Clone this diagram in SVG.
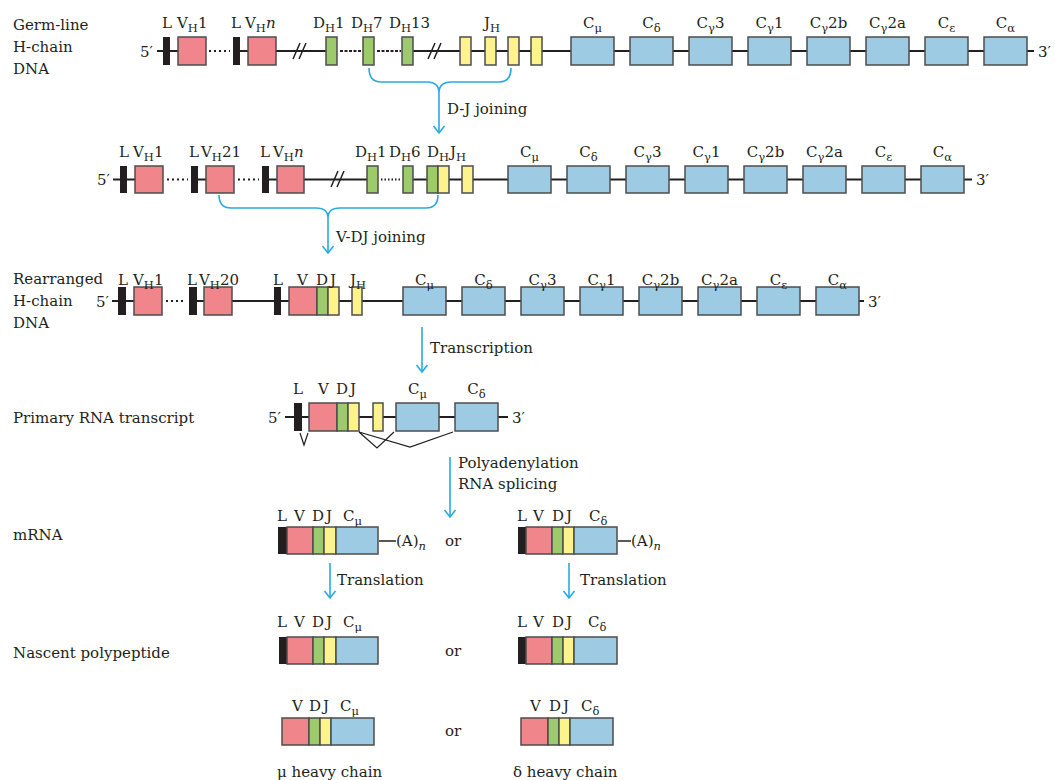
<svg xmlns="http://www.w3.org/2000/svg" width="1055" height="780" viewBox="0 0 1055 780">
<defs>
<style>
.t{font-family:"DejaVu Serif","Liberation Serif",serif;font-size:15px;fill:#231f20}
.s{font-size:11.5px}
.i{font-style:italic}
.ln{stroke:#231f20;stroke-width:2;fill:none}
.dot{stroke:#231f20;stroke-width:2;fill:none;stroke-dasharray:2 3}
.dsh{stroke:#231f20;stroke-width:2;fill:none;stroke-dasharray:3 1.5}
.sl{stroke:#231f20;stroke-width:1.5;fill:none}
.L{fill:#231f20}
.V{fill:#f0858b;stroke:#4d4d4d;stroke-width:1.5}
.D{fill:#9dcb6b;stroke:#4d4d4d;stroke-width:1.5}
.J{fill:#fcf38c;stroke:#4d4d4d;stroke-width:1.5}
.C{fill:#9ccbe3;stroke:#4d4d4d;stroke-width:1.5}
.arr{stroke:#29aae1;stroke-width:1.6;fill:none}
.spl{stroke:#231f20;stroke-width:1.2;fill:none}
</style>
<marker id="ah" viewBox="-9 -7 11 14" refX="0" refY="0" markerWidth="11" markerHeight="14" markerUnits="userSpaceOnUse" orient="auto">
<path d="M-7,-5.5 L0,0 L-7,5.5" fill="none" stroke="#29aae1" stroke-width="1.6"/>
</marker>
</defs>
<rect width="1055" height="780" fill="#ffffff"/>

<!-- Left labels -->
<g id="side-labels">
<text class="t" x="13" y="30">Germ-line</text>
<text class="t" x="13" y="52">H-chain</text>
<text class="t" x="13" y="74">DNA</text>
<text class="t" x="13" y="284">Rearranged</text>
<text class="t" x="13" y="306">H-chain</text>
<text class="t" x="13" y="328">DNA</text>
<text class="t" x="13" y="423">Primary RNA transcript</text>
<text class="t" x="13" y="540">mRNA</text>
<text class="t" x="13" y="658">Nascent polypeptide</text>
</g>

<!-- Row 1: germ-line -->
<g id="row1">
<g id="row1-backbone">
<path class="ln" d="M157,51 H205 M240,51 H337 M413,51 H1034"/>
<path class="dot" d="M209,51 H230"/>
<path class="dsh" d="M340,51 H362 M377,51 H401"/>
<path class="sl" d="M293,59 L300,43 M299,59 L306,43 M428,59 L435,43 M434,59 L441,43"/>
<text class="t" x="140" y="57">5′</text>
<text class="t" x="1038" y="57">3′</text>
</g>
<g id="r1-L1"><rect class="L" x="163" y="37" width="7" height="28"/><text class="t" x="162" y="28">L</text></g>
<g id="r1-VH1"><rect class="V" x="178" y="37" width="28" height="28"/><text class="t" x="177" y="28">V<tspan class="s" dy="4">H</tspan><tspan dy="-4">1</tspan></text></g>
<g id="r1-L2"><rect class="L" x="233" y="37" width="7" height="28"/><text class="t" x="231" y="28">L</text></g>
<g id="r1-VHn"><rect class="V" x="248" y="37" width="28" height="28"/><text class="t" x="245" y="28">V<tspan class="s" dy="4">H</tspan><tspan class="i" dy="-4">n</tspan></text></g>
<g id="r1-DH1"><rect class="D" x="326" y="37" width="11" height="28"/><text class="t" x="313" y="28">D<tspan class="s" dy="4">H</tspan><tspan dy="-4">1</tspan></text></g>
<g id="r1-DH7"><rect class="D" x="363" y="37" width="11" height="28"/><text class="t" x="351" y="28">D<tspan class="s" dy="4">H</tspan><tspan dy="-4">7</tspan></text></g>
<g id="r1-DH13"><rect class="D" x="402" y="37" width="11" height="28"/><text class="t" x="389" y="28">D<tspan class="s" dy="4">H</tspan><tspan dy="-4">13</tspan></text></g>
<g id="r1-JH">
<rect class="J" x="460" y="37" width="11" height="28"/>
<rect class="J" x="485" y="37" width="11" height="28"/>
<rect class="J" x="508" y="37" width="11" height="28"/>
<rect class="J" x="531" y="37" width="11" height="28"/>
<text class="t" x="484" y="28">J<tspan class="s" dy="4">H</tspan></text>
</g>
<g id="r1-Cmu"><rect class="C" x="571" y="37" width="43" height="28"/><text class="t" x="592.5" y="28" text-anchor="middle">C<tspan class="s" dy="4">μ</tspan></text></g>
<g id="r1-Cdelta"><rect class="C" x="630" y="37" width="43" height="28"/><text class="t" x="651.5" y="28" text-anchor="middle">C<tspan class="s" dy="4">δ</tspan></text></g>
<g id="r1-Cg3"><rect class="C" x="689" y="37" width="43" height="28"/><text class="t" x="710.5" y="28" text-anchor="middle">C<tspan class="s" dy="4">γ</tspan><tspan dy="-4">3</tspan></text></g>
<g id="r1-Cg1"><rect class="C" x="748" y="37" width="43" height="28"/><text class="t" x="769.5" y="28" text-anchor="middle">C<tspan class="s" dy="4">γ</tspan><tspan dy="-4">1</tspan></text></g>
<g id="r1-Cg2b"><rect class="C" x="807" y="37" width="43" height="28"/><text class="t" x="828.5" y="28" text-anchor="middle">C<tspan class="s" dy="4">γ</tspan><tspan dy="-4">2b</tspan></text></g>
<g id="r1-Cg2a"><rect class="C" x="866" y="37" width="43" height="28"/><text class="t" x="887.5" y="28" text-anchor="middle">C<tspan class="s" dy="4">γ</tspan><tspan dy="-4">2a</tspan></text></g>
<g id="r1-Ceps"><rect class="C" x="925" y="37" width="43" height="28"/><text class="t" x="946.5" y="28" text-anchor="middle">C<tspan class="s" dy="4">ε</tspan></text></g>
<g id="r1-Calpha"><rect class="C" x="984" y="37" width="43" height="28"/><text class="t" x="1005.5" y="28" text-anchor="middle">C<tspan class="s" dy="4">α</tspan></text></g>
</g>

<!-- Row 2: after D-J joining -->
<g id="row2">
<g id="row2-backbone">
<path class="ln" d="M113,179.5 H163 M191,179.5 H234 M262,179.5 H378 M403,179.5 H972"/>
<path class="dot" d="M167,179.5 H188 M238,179.5 H259"/>
<path class="dot" d="M381,179.5 H402" style="stroke-dasharray:1.5 2"/>
<path class="sl" d="M331,187 L338,171 M337,187 L344,171"/>
<text class="t" x="97" y="185">5′</text>
<text class="t" x="976" y="185">3′</text>
</g>
<g id="r2-L1"><rect class="L" x="120" y="166" width="7" height="27"/><text class="t" x="119" y="157">L</text></g>
<g id="r2-VH1"><rect class="V" x="135" y="166" width="28" height="27"/><text class="t" x="133" y="157">V<tspan class="s" dy="4">H</tspan><tspan dy="-4">1</tspan></text></g>
<g id="r2-L2"><rect class="L" x="191" y="166" width="7" height="27"/><text class="t" x="189" y="157">L</text></g>
<g id="r2-VH21"><rect class="V" x="206" y="166" width="28" height="27"/><text class="t" x="201" y="157">V<tspan class="s" dy="4">H</tspan><tspan dy="-4">21</tspan></text></g>
<g id="r2-L3"><rect class="L" x="262" y="166" width="7" height="27"/><text class="t" x="260" y="157">L</text></g>
<g id="r2-VHn"><rect class="V" x="277" y="166" width="27" height="27"/><text class="t" x="273" y="157">V<tspan class="s" dy="4">H</tspan><tspan class="i" dy="-4">n</tspan></text></g>
<g id="r2-DH1"><rect class="D" x="367" y="166" width="11" height="27"/><text class="t" x="355" y="157">D<tspan class="s" dy="4">H</tspan><tspan dy="-4">1</tspan></text></g>
<g id="r2-DH6"><rect class="D" x="403" y="166" width="10" height="27"/><text class="t" x="389" y="157">D<tspan class="s" dy="4">H</tspan><tspan dy="-4">6</tspan></text></g>
<g id="r2-DHJH"><rect class="D" x="427" y="166" width="11" height="27"/><rect class="J" x="438" y="166" width="11" height="27"/><text class="t" x="427" y="157">D<tspan class="s" dy="4">H</tspan><tspan dy="-4" dx="1">J</tspan><tspan class="s" dy="4">H</tspan></text></g>
<g id="r2-JH"><rect class="J" x="462" y="166" width="11" height="27"/></g>
<g id="r2-Cmu"><rect class="C" x="508" y="166" width="43" height="27"/><text class="t" x="529.5" y="157" text-anchor="middle">C<tspan class="s" dy="4">μ</tspan></text></g>
<g id="r2-Cdelta"><rect class="C" x="567" y="166" width="43" height="27"/><text class="t" x="588.5" y="157" text-anchor="middle">C<tspan class="s" dy="4">δ</tspan></text></g>
<g id="r2-Cg3"><rect class="C" x="626" y="166" width="43" height="27"/><text class="t" x="647.5" y="157" text-anchor="middle">C<tspan class="s" dy="4">γ</tspan><tspan dy="-4">3</tspan></text></g>
<g id="r2-Cg1"><rect class="C" x="685" y="166" width="43" height="27"/><text class="t" x="706.5" y="157" text-anchor="middle">C<tspan class="s" dy="4">γ</tspan><tspan dy="-4">1</tspan></text></g>
<g id="r2-Cg2b"><rect class="C" x="744" y="166" width="43" height="27"/><text class="t" x="765.5" y="157" text-anchor="middle">C<tspan class="s" dy="4">γ</tspan><tspan dy="-4">2b</tspan></text></g>
<g id="r2-Cg2a"><rect class="C" x="803" y="166" width="43" height="27"/><text class="t" x="824.5" y="157" text-anchor="middle">C<tspan class="s" dy="4">γ</tspan><tspan dy="-4">2a</tspan></text></g>
<g id="r2-Ceps"><rect class="C" x="862" y="166" width="43" height="27"/><text class="t" x="883.5" y="157" text-anchor="middle">C<tspan class="s" dy="4">ε</tspan></text></g>
<g id="r2-Calpha"><rect class="C" x="921" y="166" width="43" height="27"/><text class="t" x="942.5" y="157" text-anchor="middle">C<tspan class="s" dy="4">α</tspan></text></g>
</g>

<!-- Row 3: rearranged -->
<g id="row3">
<g id="row3-backbone">
<path class="ln" d="M112,301 H162 M189,301 H864"/>
<path class="dot" d="M166,301 H186"/>
<text class="t" x="96" y="307">5′</text>
<text class="t" x="868" y="307">3′</text>
</g>
<g id="r3-L1"><rect class="L" x="118" y="287" width="8" height="28"/><text class="t" x="118" y="285">L</text></g>
<g id="r3-VH1"><rect class="V" x="134" y="287" width="28" height="28"/><text class="t" x="133" y="285">V<tspan class="s" dy="4">H</tspan><tspan dy="-4">1</tspan></text></g>
<g id="r3-L2"><rect class="L" x="189" y="287" width="8" height="28"/><text class="t" x="187" y="285">L</text></g>
<g id="r3-VH20"><rect class="V" x="204" y="287" width="28" height="28"/><text class="t" x="199" y="285">V<tspan class="s" dy="4">H</tspan><tspan dy="-4">20</tspan></text></g>
<g id="r3-L3"><rect class="L" x="274" y="287" width="7" height="28"/><text class="t" x="273" y="285">L</text></g>
<g id="r3-VDJ"><rect class="V" x="289" y="287" width="28" height="28"/><rect class="D" x="317" y="287" width="11" height="28"/><rect class="J" x="328" y="287" width="11" height="28"/>
<text class="t" x="297" y="285">V</text><text class="t" x="316" y="285">D<tspan dx="2">J</tspan></text></g>
<g id="r3-JH"><rect class="J" x="352" y="287" width="10" height="28"/><text class="t" x="350" y="285">J<tspan class="s" dy="4">H</tspan></text></g>
<g id="r3-Cmu"><rect class="C" x="403" y="287" width="43" height="28"/><text class="t" x="424.5" y="285" text-anchor="middle">C<tspan class="s" dy="4">μ</tspan></text></g>
<g id="r3-Cdelta"><rect class="C" x="462" y="287" width="43" height="28"/><text class="t" x="483.5" y="285" text-anchor="middle">C<tspan class="s" dy="4">δ</tspan></text></g>
<g id="r3-Cg3"><rect class="C" x="521" y="287" width="43" height="28"/><text class="t" x="542.5" y="285" text-anchor="middle">C<tspan class="s" dy="4">γ</tspan><tspan dy="-4">3</tspan></text></g>
<g id="r3-Cg1"><rect class="C" x="580" y="287" width="43" height="28"/><text class="t" x="601.5" y="285" text-anchor="middle">C<tspan class="s" dy="4">γ</tspan><tspan dy="-4">1</tspan></text></g>
<g id="r3-Cg2b"><rect class="C" x="639" y="287" width="43" height="28"/><text class="t" x="660.5" y="285" text-anchor="middle">C<tspan class="s" dy="4">γ</tspan><tspan dy="-4">2b</tspan></text></g>
<g id="r3-Cg2a"><rect class="C" x="698" y="287" width="43" height="28"/><text class="t" x="719.5" y="285" text-anchor="middle">C<tspan class="s" dy="4">γ</tspan><tspan dy="-4">2a</tspan></text></g>
<g id="r3-Ceps"><rect class="C" x="757" y="287" width="43" height="28"/><text class="t" x="778.5" y="285" text-anchor="middle">C<tspan class="s" dy="4">ε</tspan></text></g>
<g id="r3-Calpha"><rect class="C" x="816" y="287" width="43" height="28"/><text class="t" x="837.5" y="285" text-anchor="middle">C<tspan class="s" dy="4">α</tspan></text></g>
</g>

<!-- Primary RNA transcript -->
<g id="primary-transcript">
<path class="ln" d="M285,417 H508"/>
<text class="t" x="268" y="423">5′</text>
<text class="t" x="512" y="423">3′</text>
<rect class="L" x="294" y="403" width="8" height="28"/>
<rect class="V" x="309" y="403" width="28" height="28"/>
<rect class="D" x="337" y="403" width="11" height="28"/>
<rect class="J" x="348" y="403" width="11" height="28"/>
<rect class="J" x="373" y="403" width="10" height="28"/>
<rect class="C" x="396" y="403" width="43" height="28"/>
<rect class="C" x="455" y="403" width="43" height="28"/>
<text class="t" x="293" y="394">L</text>
<text class="t" x="318" y="394">V</text>
<text class="t" x="336" y="394">D<tspan dx="2">J</tspan></text>
<text class="t" x="417.5" y="394" text-anchor="middle">C<tspan class="s" dy="4">μ</tspan></text>
<text class="t" x="476.5" y="394" text-anchor="middle">C<tspan class="s" dy="4">δ</tspan></text>
<path class="spl" d="M300,433 L304,445 L308,433"/>
<path class="spl" d="M359,432 L377,448 L394,432 M359,432 L410,447 L453,432"/>
</g>

<!-- mRNA -->
<g id="mrna-mu">
<rect class="L" x="278" y="527" width="9" height="27"/>
<rect class="V" x="287" y="527" width="26" height="27"/>
<rect class="D" x="313" y="527" width="11" height="27"/>
<rect class="J" x="324" y="527" width="12" height="27"/>
<rect class="C" x="336" y="527" width="42" height="27"/>
<path class="ln" d="M379,541 H396" style="stroke-width:1.5"/>
<text class="t" x="396" y="546">(A)<tspan class="s i" dy="4">n</tspan></text>
<text class="t" x="277" y="521">L</text>
<text class="t" x="294" y="521">V</text>
<text class="t" x="312" y="521">D<tspan dx="2">J</tspan></text>
<text class="t" x="343" y="521">C<tspan class="s" dy="4">μ</tspan></text>
</g>
<text class="t" x="445" y="546">or</text>
<g id="mrna-delta">
<rect class="L" x="518" y="527" width="8" height="27"/>
<rect class="V" x="526" y="527" width="26" height="27"/>
<rect class="D" x="552" y="527" width="11" height="27"/>
<rect class="J" x="563" y="527" width="11" height="27"/>
<rect class="C" x="574" y="527" width="43" height="27"/>
<path class="ln" d="M618,541 H631" style="stroke-width:1.5"/>
<text class="t" x="631" y="546">(A)<tspan class="s i" dy="4">n</tspan></text>
<text class="t" x="517" y="521">L</text>
<text class="t" x="533" y="521">V</text>
<text class="t" x="552" y="521">D<tspan dx="2">J</tspan></text>
<text class="t" x="589" y="521">C<tspan class="s" dy="4">δ</tspan></text>
</g>

<!-- Nascent polypeptides -->
<g id="nascent-mu">
<rect class="L" x="279" y="637" width="8" height="27"/>
<rect class="V" x="287" y="637" width="26" height="27"/>
<rect class="D" x="313" y="637" width="11" height="27"/>
<rect class="J" x="324" y="637" width="12" height="27"/>
<rect class="C" x="336" y="637" width="42" height="27"/>
<text class="t" x="277" y="627">L</text>
<text class="t" x="294" y="627">V</text>
<text class="t" x="312" y="627">D<tspan dx="2">J</tspan></text>
<text class="t" x="343" y="627">C<tspan class="s" dy="4">μ</tspan></text>
</g>
<text class="t" x="445" y="656">or</text>
<g id="nascent-delta">
<rect class="L" x="518" y="637" width="8" height="27"/>
<rect class="V" x="526" y="637" width="26" height="27"/>
<rect class="D" x="552" y="637" width="11" height="27"/>
<rect class="J" x="563" y="637" width="11" height="27"/>
<rect class="C" x="574" y="637" width="43" height="27"/>
<text class="t" x="517" y="627">L</text>
<text class="t" x="533" y="627">V</text>
<text class="t" x="552" y="627">D<tspan dx="2">J</tspan></text>
<text class="t" x="588" y="627">C<tspan class="s" dy="4">δ</tspan></text>
</g>

<!-- Heavy chains -->
<g id="mu-chain">
<rect class="V" x="282" y="718" width="27" height="27"/>
<rect class="D" x="309" y="718" width="11" height="27"/>
<rect class="J" x="320" y="718" width="11" height="27"/>
<rect class="C" x="331" y="718" width="43" height="27"/>
<text class="t" x="292" y="711">V</text>
<text class="t" x="309" y="711">D<tspan dx="2">J</tspan></text>
<text class="t" x="340" y="711">C<tspan class="s" dy="4">μ</tspan></text>
<text class="t" x="277" y="777">μ heavy chain</text>
</g>
<text class="t" x="445" y="736">or</text>
<g id="delta-chain">
<rect class="V" x="521" y="718" width="27" height="27"/>
<rect class="D" x="548" y="718" width="11" height="27"/>
<rect class="J" x="559" y="718" width="11" height="27"/>
<rect class="C" x="570" y="718" width="43" height="27"/>
<text class="t" x="530" y="711">V</text>
<text class="t" x="549" y="711">D<tspan dx="2">J</tspan></text>
<text class="t" x="581" y="711">C<tspan class="s" dy="4">δ</tspan></text>
<text class="t" x="513" y="777">δ heavy chain</text>
</g>

<!-- Connectors -->
<g id="connectors">
<path class="arr" d="M369,68 Q369,82 381,82 L427,82 Q439,82 439,93 Q439,82 451,82 L499,82 Q511,82 511,68"/>
<path class="arr" d="M439,93 V133" marker-end="url(#ah)"/>
<text class="t" x="447" y="114">D-J joining</text>
<path class="arr" d="M219,195 Q219,208 231,208 L316,208 Q328,208 328,218 Q328,208 340,208 L426,208 Q438,208 438,195"/>
<path class="arr" d="M328,218 V253" marker-end="url(#ah)"/>
<text class="t" x="336" y="242">V-DJ joining</text>
<path class="arr" d="M422,327 V372" marker-end="url(#ah)"/>
<text class="t" x="430" y="353">Transcription</text>
<path class="arr" d="M450,457 V517" marker-end="url(#ah)"/>
<text class="t" x="458" y="468">Polyadenylation</text>
<text class="t" x="458" y="489">RNA splicing</text>
<path class="arr" d="M330,563 V598" marker-end="url(#ah)"/>
<text class="t" x="337" y="585">Translation</text>
<path class="arr" d="M569,563 V598" marker-end="url(#ah)"/>
<text class="t" x="580" y="585">Translation</text>
</g>
</svg>
